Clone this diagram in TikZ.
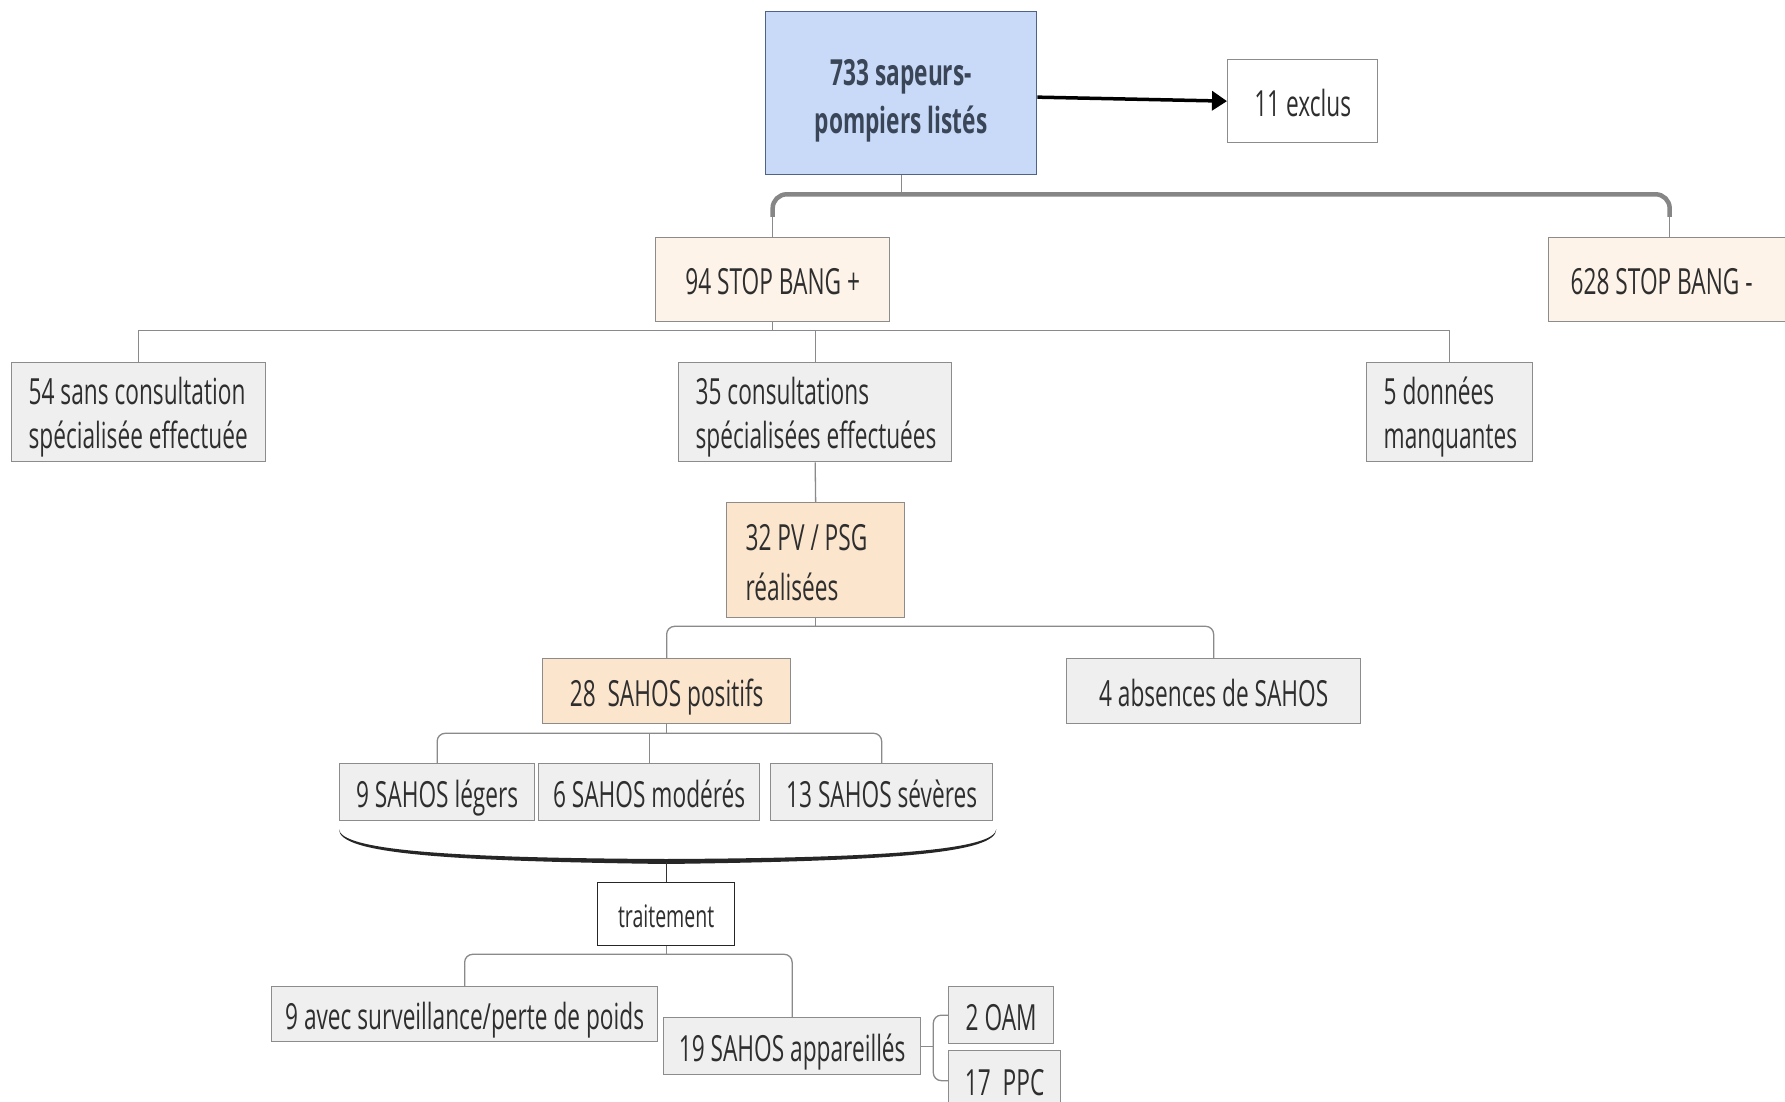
\documentclass[tikz,border=0pt]{standalone}
\usepackage{fontspec}
\setmainfont{Open Sans}[FakeStretch=0.63]
\usetikzlibrary{arrows.meta,calc}
\definecolor{blueFill}{HTML}{C9DAF8}
\definecolor{blueLine}{HTML}{4F6288}
\definecolor{beigeFill}{HTML}{FDF3E8}
\definecolor{orangeFill}{HTML}{FCE5CD}
\definecolor{greyFill}{HTML}{EFEFEF}
\definecolor{boxLine}{HTML}{8C8C8C}
\definecolor{connLine}{HTML}{8A8A8A}
\definecolor{txt}{HTML}{2E2E2E}
\definecolor{topTxt}{HTML}{3A4658}
\begin{document}
\begin{tikzpicture}[x=1pt,y=-1pt,
  box/.style={draw=boxLine, line width=1.3pt, anchor=north west, inner ysep=0pt, text=txt, font=\fontsize{36}{44}\selectfont},
  cbox/.style={box, align=center, inner xsep=0pt},
  sbox/.style={cbox, text height=36pt, text depth=6pt},
  lbox/.style={box, align=flush left},
  fillgrey/.style={fill=greyFill},
  fillbeige/.style={fill=beigeFill},
  fillorange/.style={fill=orangeFill},
  conn/.style={draw=connLine, line width=1.3pt},
  thickbar/.style={draw=gray!95, line width=4.5pt},
]
\fill[white] (0,0) rectangle (1785,1102);
\useasboundingbox (0,0) rectangle (1785,1102);
\clip (0,0) rectangle (1785,1102);

% nodes
\node[cbox, fill=blueFill, draw=blueLine, text=topTxt, font=\fontsize{36}{48}\selectfont\bfseries,
      minimum width=271pt, minimum height=163pt] (top) at (765,11) {\rule{0pt}{41pt}733 sapeurs-\\pompiers listés};
\node[sbox, fill=white, minimum width=150pt, minimum height=83pt] (n11) at (1227,59) {11 exclus};

\node[sbox, fillbeige, minimum width=234pt, minimum height=84pt] (n94) at (655,237) {94 STOP BANG +};
\node[lbox, fillbeige, text width=198pt, inner xsep=22pt, minimum height=84pt, text height=36pt, text depth=6pt] (n628) at (1548,237) {628 STOP BANG -};

\node[lbox, fillgrey, text width=220pt, inner xsep=17pt, minimum height=99pt] (n54) at (11,362)
  {\mbox{\rule{0pt}{37pt}54 sans consultation}\\\mbox{spécialisée effectuée}};
\node[lbox, fillgrey, text width=239pt, inner xsep=17pt, minimum height=99pt] (n35) at (678,362)
  {\mbox{\rule{0pt}{37pt}35 consultations}\\\mbox{spécialisées effectuées}};
\node[lbox, fillgrey, text width=132pt, inner xsep=17pt, minimum height=99pt] (n5) at (1366,362)
  {\mbox{\rule{0pt}{37pt}5 données}\\\mbox{manquantes}};

\node[lbox, fillorange, text width=140pt, inner xsep=19pt, minimum height=115pt,
      font=\fontsize{36}{50}\selectfont] (n32) at (726,502)
  {\mbox{\rule{0pt}{31pt}32 PV / PSG}\\\mbox{réalisées}};

\node[sbox, fillorange, minimum width=248pt, minimum height=65pt] (n28) at (542,658) {28\ \ SAHOS positifs};
\node[sbox, fillgrey, minimum width=294pt, minimum height=65pt] (n4) at (1066,658) {4 absences de SAHOS};

\node[sbox, fillgrey, minimum width=195pt, minimum height=57pt] (n9l) at (339,763) {9 SAHOS légers};
\node[sbox, fillgrey, minimum width=221pt, minimum height=57pt] (n6m) at (538,763) {6 SAHOS modérés};
\node[sbox, fillgrey, minimum width=222pt, minimum height=57pt] (n13s) at (770,763) {13 SAHOS sévères};

\node[cbox, fill=white, draw=black!85, font=\fontsize{31}{36}\selectfont, text height=31pt, text depth=5pt,
      minimum width=137pt, minimum height=63pt] (ntr) at (597,882) {traitement};

\node[sbox, fillgrey, minimum width=386pt, minimum height=55pt] (n9a) at (271,986) {9 avec surveillance/perte de poids};
\node[sbox, fillgrey, minimum width=257pt, minimum height=57pt] (n19) at (663,1017) {19 SAHOS appareillés};
\node[sbox, fillgrey, minimum width=105pt, minimum height=57pt] (n2) at (948,986) {2 OAM};
\node[sbox, fillgrey, minimum width=112pt, minimum height=60pt] (n17) at (948,1050) {17\ \ PPC};

% arrow to excluded
\draw[line width=3.5pt, -{Triangle[length=15pt,width=19pt]}] ($(top.east)+(0,4)$) -- (n11.west);

% top split
\draw[conn] (top.south) -- ++(0,19) coordinate (barmid);
\coordinate (stubL) at ($(n94.north)+(0,-20)$);
\coordinate (stubR) at ($(n628.north)+(0,-20)$);
\draw[thickbar, rounded corners=14pt] (stubL) |- (barmid) -| (stubR);
\draw[conn] (stubL) -- (n94.north);
\draw[conn] (stubR) -- (n628.north);

% level 2
\coordinate (l2) at ($(n94.south)+(0,8)$);
\draw[conn] (n94.south) -- (l2);
\draw[conn] (n54.north) |- (l2) -| (n5.north);
\draw[conn] (n35.north) -- (n35.north |- l2);
\draw[conn] (n35.south) -- (n32.north);

% level 3
\coordinate (l3) at ($(n32.south)+(0,8)$);
\draw[conn] (n32.south) -- (l3);
\draw[conn, rounded corners=8pt] (n28.north) |- (l3) -| (n4.north);

% level 4
\coordinate (l4) at ($(n28.south)+(0,9)$);
\draw[conn] (n28.south) -- (l4);
\draw[conn, rounded corners=8pt] (n9l.north) |- (l4) -| (n13s.north);
\draw[conn] (n6m.north) -- (n6m.north |- l4);

% brace
\coordinate (braceL) at ($(n9l.south west)+(0,8)$);
\coordinate (braceR) at ($(n13s.south east)+(3,8)$);
\coordinate (braceM) at ($(ntr.north)+(0,-20)$);
\fill[black!85] (braceL) .. controls ($(braceL)+(0,24)$) and ($(braceM)+(-226,-1)$) .. ($(braceM)+(0,2)$)
   .. controls ($(braceM)+(226,-1)$) and ($(braceR)+(0,24)$) .. (braceR)
   .. controls ($(braceR)+(-2,20)$) and ($(braceM)+(226,-4)$) .. ($(braceM)+(0,-3)$)
   .. controls ($(braceM)+(-226,-4)$) and ($(braceL)+(2,20)$) .. (braceL) -- cycle;
\draw[conn, draw=black!80] (braceM) -- (ntr.north);

% treatment split
\coordinate (l5) at ($(ntr.south)+(0,8)$);
\draw[conn] (ntr.south) -- (l5);
\draw[conn, rounded corners=8pt] (n9a.north) |- (l5) -| (n19.north);

% device split
\coordinate (br) at ($(n19.east)+(12,0)$);
\draw[conn] (n19.east) -- (br);
\draw[conn, rounded corners=8pt] (n2.west) -| (br) |- (n17.west);
\end{tikzpicture}
\end{document}
